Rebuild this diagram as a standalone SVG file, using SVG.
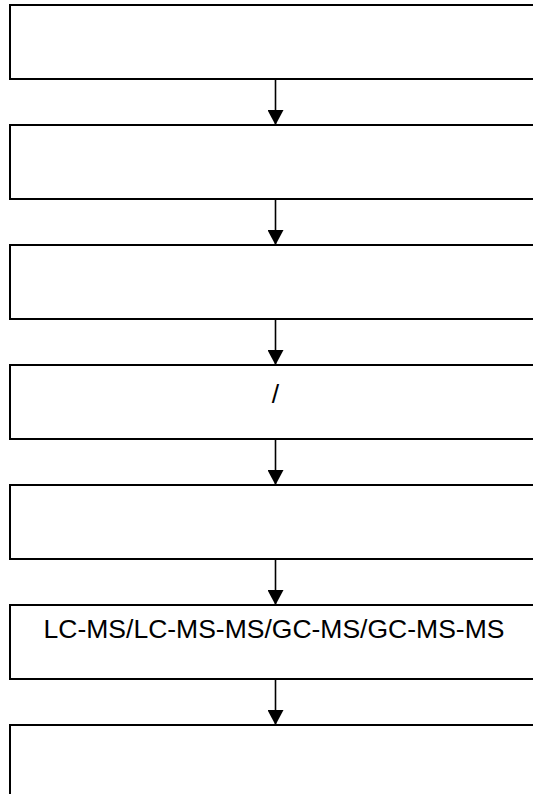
<svg xmlns="http://www.w3.org/2000/svg" width="533" height="794" viewBox="0 0 533 794">
<style>
.box{fill:#fff;stroke:#000;stroke-width:2}
.conn{stroke:#000;stroke-width:1.6;fill:none}
.lbl{font-family:"Liberation Sans",Arial,sans-serif;font-size:26.5px;fill:#000;text-anchor:middle}
</style>
<defs>
<marker id="ah" markerUnits="userSpaceOnUse" markerWidth="16" markerHeight="16" viewBox="0 0 16 16" refX="15" refY="8" orient="auto">
<path d="M0,0 L15,8 L0,16 Z" fill="#000"/>
</marker>
</defs>
<rect width="533" height="794" fill="#fff"/>
<g id="n1"><rect class="box" x="10" y="5" width="540" height="74"/></g>
<g id="n2"><rect class="box" x="10" y="125" width="540" height="74"/></g>
<g id="n3"><rect class="box" x="10" y="245" width="540" height="74"/></g>
<g id="n4"><rect class="box" x="10" y="365" width="540" height="74"/><text class="lbl" x="275.5" y="403">/</text></g>
<g id="n5"><rect class="box" x="10" y="485" width="540" height="74"/></g>
<g id="n6"><rect class="box" x="10" y="605" width="540" height="74"/><text class="lbl" x="274" y="638">LC-MS/LC-MS-MS/GC-MS/GC-MS-MS</text></g>
<g id="n7"><rect class="box" x="10" y="725" width="540" height="100"/></g>
<g id="connectors">
<line class="conn" x1="275.5" y1="79" x2="275.5" y2="125" marker-end="url(#ah)"/>
<line class="conn" x1="275.5" y1="199" x2="275.5" y2="245" marker-end="url(#ah)"/>
<line class="conn" x1="275.5" y1="319" x2="275.5" y2="365" marker-end="url(#ah)"/>
<line class="conn" x1="275.5" y1="439" x2="275.5" y2="485" marker-end="url(#ah)"/>
<line class="conn" x1="275.5" y1="559" x2="275.5" y2="605" marker-end="url(#ah)"/>
<line class="conn" x1="275.5" y1="679" x2="275.5" y2="725" marker-end="url(#ah)"/>
</g>
</svg>
